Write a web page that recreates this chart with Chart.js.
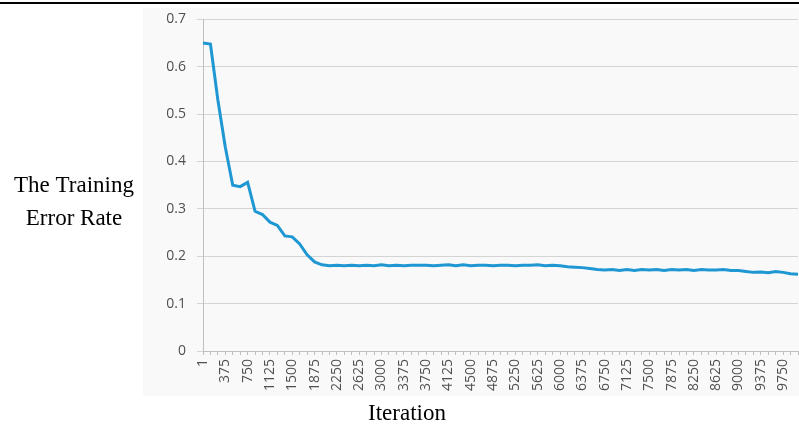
<!DOCTYPE html>
<html>
<head>
<meta charset="utf-8">
<script src="https://cdn.jsdelivr.net/npm/chart.js@4"></script>
<style>
  body { margin: 0; background: #fff; }
  #wrap { width: 799px; height: 426px; position: relative; }
</style>
</head>
<body>
<div id="wrap"><canvas id="chart"></canvas></div>
<script>
// iterations (every 125), only every 3rd one is labelled
const iterations = ['1']
for (let i = 1; i <= 80; i++) iterations.push(String(i * 125))

const errorRate = [
  0.650, 0.648, 0.530, 0.430, 0.350, 0.347, 0.356, 0.295, 0.288, 0.272,
  0.265, 0.243, 0.241, 0.226, 0.203, 0.188, 0.182, 0.180, 0.181, 0.180,
  0.181, 0.180, 0.181, 0.180, 0.182, 0.180, 0.181, 0.180, 0.181, 0.181,
  0.181, 0.180, 0.181, 0.182, 0.180, 0.182, 0.180, 0.181, 0.181, 0.180,
  0.181, 0.181, 0.180, 0.181, 0.181, 0.182, 0.180, 0.181, 0.180, 0.178,
  0.177, 0.176, 0.174, 0.172, 0.171, 0.172, 0.170, 0.172, 0.170, 0.172,
  0.171, 0.172, 0.170, 0.172, 0.171, 0.172, 0.170, 0.172, 0.171, 0.171,
  0.172, 0.170, 0.170, 0.168, 0.166, 0.167, 0.165, 0.168, 0.166, 0.163,
  0.162,
]

const yTitle = ['The Training', 'Error Rate']
const xTitle = 'Iteration'

const frame = {
  id: 'frame',
  beforeDraw(chart) {
    const c = chart.ctx
    c.save()
    c.fillStyle = '#ffffff'
    c.fillRect(0, 0, chart.width, chart.height)
    c.fillStyle = '#f9f9f9'
    c.fillRect(143, 8, chart.width - 143, 388)
    c.fillStyle = '#000'
    c.fillRect(0, 2, chart.width, 2)
    c.restore()
  },
  afterDraw(chart) {
    const c = chart.ctx
    c.save()
    c.fillStyle = '#000'
    c.font = '23px "Liberation Serif", "Times New Roman", serif'
    c.textAlign = 'center'
    c.textBaseline = 'middle'
    c.fillText(yTitle[0], 74, 186)
    c.fillText(yTitle[1], 74, 219)
    c.fillText(xTitle, 407, 414)
    c.restore()
  },
}

new Chart(document.getElementById('chart'), {
  type: 'line',
  data: {
    labels: iterations,
    datasets: [
      {
        data: errorRate,
        borderColor: '#1f97d3',
        borderWidth: 3,
        pointRadius: 0,
        tension: 0,
        fill: false,
      },
    ],
  },
  plugins: [frame],
  options: {
    responsive: true,
    maintainAspectRatio: false,
    animation: false,
    layout: { padding: { left: 143, right: 1, top: 17, bottom: 0 } },
    plugins: { legend: { display: false }, tooltip: { enabled: false } },
    scales: {
      x: {
        type: 'category',
        afterFit(scale) {
          scale.height = 75
          scale.paddingLeft = 0
          scale.paddingRight = 0
        },
        grid: {
          drawOnChartArea: false,
          drawTicks: true,
          tickLength: 4,
          color: '#bfbfbf',
        },
        border: { color: '#bfbfbf', width: 1 },
        ticks: {
          autoSkip: false,
          maxRotation: 90,
          minRotation: 90,
          padding: 4,
          color: '#505050',
          font: { family: '"Open Sans", sans-serif', size: 14 },
          callback: function (val, i) {
            return i % 3 === 0 ? iterations[i] : ''
          },
        },
      },
      y: {
        min: 0,
        max: 0.7,
        afterFit(scale) {
          scale.width = 60
        },
        grid: { color: '#d4d4d4', tickLength: 6, lineWidth: 1 },
        border: { color: '#bfbfbf', width: 1 },
        ticks: {
          stepSize: 0.1,
          padding: 11,
          color: '#505050',
          font: { family: '"Open Sans", sans-serif', size: 14 },
        },
      },
    },
  },
})
</script>
</body>
</html>
